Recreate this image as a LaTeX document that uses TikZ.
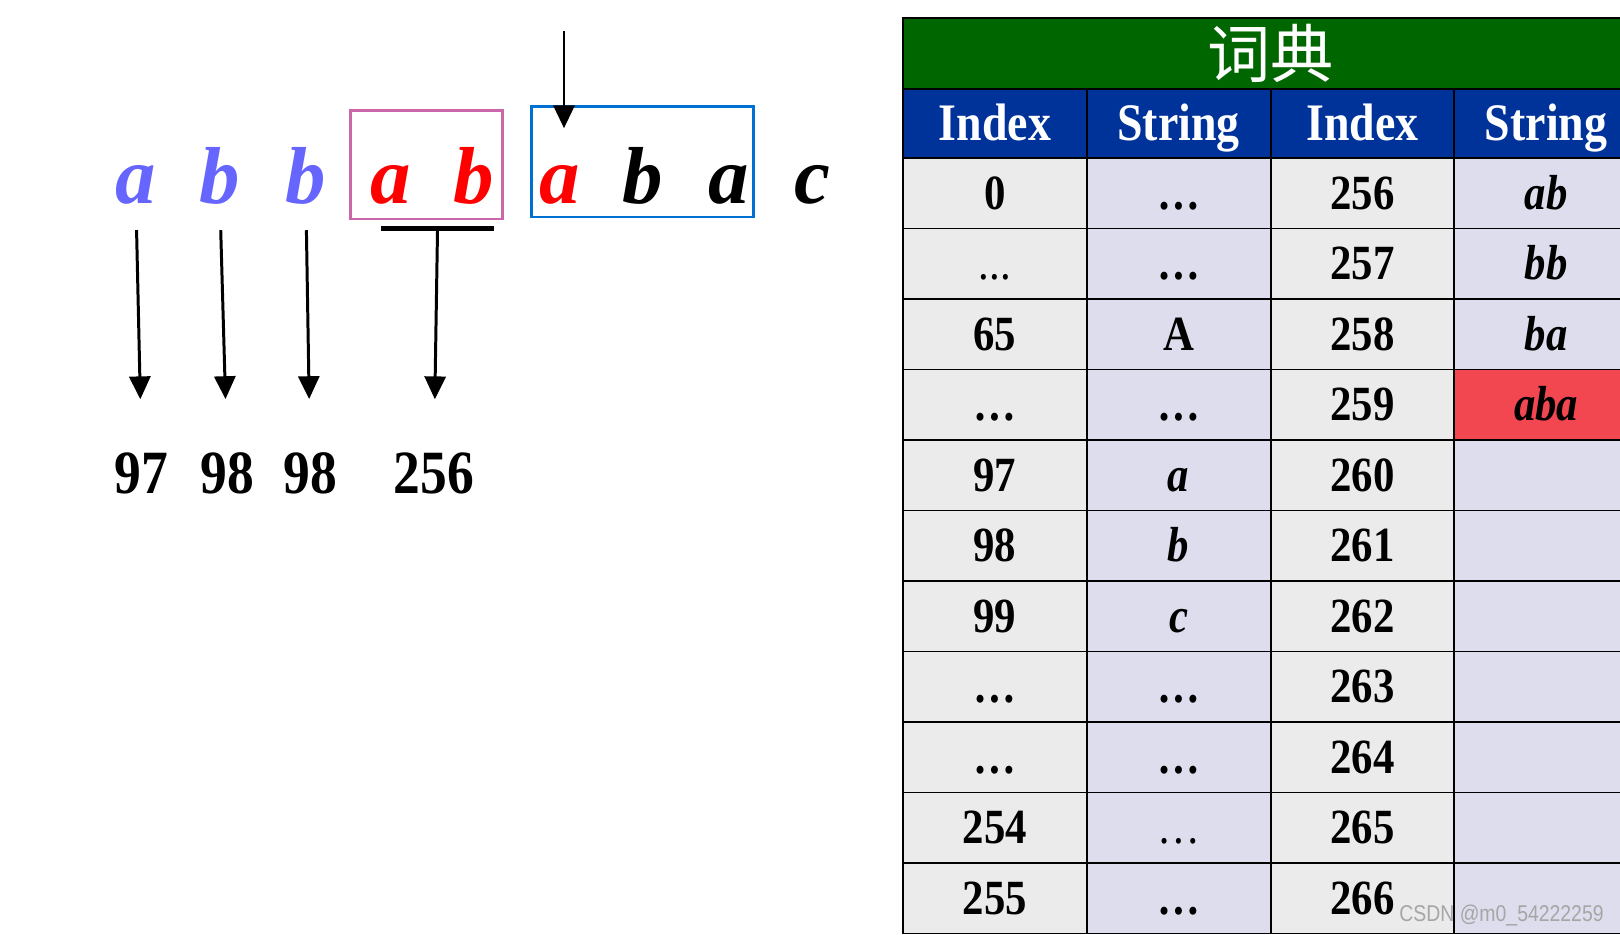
\documentclass[tikz,border=0pt]{standalone}
\usepackage{fontspec}
\setmainfont{Liberation Serif}[FakeStretch=0.87]
\setsansfont{Liberation Sans}[FakeStretch=0.85]
\newfontfamily\ltrfont{Liberation Serif}
\newfontfamily\cjk{Noto Sans CJK SC}
\usetikzlibrary{arrows.meta}
\definecolor{dictgreen}{RGB}{0,102,0}
\definecolor{headblue}{RGB}{0,51,153}
\definecolor{cellgray}{RGB}{235,235,235}
\definecolor{celllav}{RGB}{221,221,238}
\definecolor{hilite}{RGB}{242,71,80}
\definecolor{ltrblue}{RGB}{102,102,255}
\definecolor{pinkline}{RGB}{204,102,170}
\definecolor{boxblue}{RGB}{0,112,210}

\begin{document}
\begin{tikzpicture}[x=0.02cm,y=-0.02cm]
  \tikzstyle{ltr}=[anchor=base,inner sep=0pt,font=\ltrfont\fontsize{46}{46}\selectfont\bfseries\itshape]
  \tikzstyle{code}=[anchor=base,inner sep=0pt,font=\fontsize{35}{35}\selectfont\bfseries]
  \tikzstyle{f}=[-{Triangle[length=13pt,width=12pt]},line width=1.7pt]
  \tikzstyle{frame}=[line width=1.7pt,inner sep=0pt]
  \tikzstyle{cell}=[draw=black,line width=1.1pt,minimum width=3.675cm,minimum height=1.41cm,
    inner sep=0pt,text height=18pt,text depth=0pt,font=\fontsize{28}{28}\selectfont\bfseries]
  \tikzstyle{hd}=[cell,fill=headblue,text=white,minimum height=1.38cm,text height=19.5pt,
    font=\fontsize{30}{30}\selectfont\bfseries]
  \useasboundingbox (0,0) rectangle (1620,934);
  \clip (0,0) rectangle (1620,934);

  % -- input string --
  \node[ltr,text=ltrblue] (l1) at (136,203.5) {a};
  \node[ltr,text=ltrblue] (l2) at (220,203.5) {b};
  \node[ltr,text=ltrblue] (l3) at (306,203.5) {b};
  \node[ltr,text=red] (l4) at (390.5,203.5) {a};
  \node[ltr,text=red] (l5) at (474,203.5) {b};
  \node[ltr,text=red] (l6) at (560,203.5) {a};
  \node[ltr] (l7) at (642.5,203.5) {b};
  \node[ltr] (l8) at (729,203.5) {a};
  \node[ltr] (l9) at (812,203.5) {c};
  \node[frame,draw=pinkline,minimum width=3.06cm,minimum height=2.18cm] (pk) at (426.5,164.5) {};
  \node[frame,draw=boxblue,minimum width=4.46cm,minimum height=2.22cm] (bx) at (642.5,161.5) {};
  \coordinate (top) at (564,31);
  \draw[f,shorten >=21pt] (top) -- (top |- l6.north);

  % -- output codes --
  \node[code] (n1) at (141.5,493) {97};
  \node[code] (n2) at (227,493) {98};
  \node[code] (n3) at (310,493) {98};
  \node[code] (n4) at (434,493) {256};
  \node[fill=black,inner sep=0pt,minimum width=2.26cm,minimum height=0.1cm] (bar) at (437.5,228) {};
  \draw[f,shorten <=14.5pt,shorten >=30pt] (l1.south) -- (n1.north);
  \draw[f,shorten <=14.5pt,shorten >=30pt] (l2.south) -- (n2.north);
  \draw[f,shorten <=14.5pt,shorten >=30pt] (l3.south) -- (n3.north);
  \draw[f,shorten >=30pt] (bar.south) -- (n4.north);

  % -- dictionary table --
  \node[cell,fill=dictgreen,text=white,minimum width=14.7cm,minimum height=1.42cm,
    text height=30pt,text depth=2.6pt,font=\cjk\fontsize{36}{36}\selectfont] (dict) at (1270.5,53.5) {词典};
  \node[hd] (h1) at (994.9,123.5) {Index};
  \node[hd] (h2) at (1178.6,123.5) {String};
  \node[hd] (h3) at (1362.4,123.5) {Index};
  \node[hd] (h4) at (1546.1,123.5) {String};
  \foreach \r/\ca/\cb/\cc/\cd/\cf in {0/0/…/256/\textit{ab}/celllav, 1/{\mdseries...}/…/257/\textit{bb}/celllav,
      2/65/A/258/\textit{ba}/celllav, 3/…/…/259/\textit{aba}/hilite, 4/97/\textit{a}/260//celllav,
      5/98/\textit{b}/261//celllav, 6/99/\textit{c}/262//celllav, 7/…/…/263//celllav,
      8/…/…/264//celllav, 9/254/{\mdseries…}/265//celllav, 10/255/…/266//celllav} {
    \node[cell,fill=cellgray] (i\r) at (994.9,193.25+70.5*\r) {\ca};
    \node[cell,fill=celllav] (s\r) at (1178.6,193.25+70.5*\r) {\cb};
    \node[cell,fill=cellgray] (j\r) at (1362.4,193.25+70.5*\r) {\cc};
    \node[cell,fill=\cf] (t\r) at (1546.1,193.25+70.5*\r) {\cd};
  }
  \node[anchor=base east,inner sep=0pt,text=gray!70,font=\sffamily\fontsize{13}{13}\selectfont] (wm)
    at (1604,921) {CSDN @m0\_54222259};
\end{tikzpicture}
\end{document}
